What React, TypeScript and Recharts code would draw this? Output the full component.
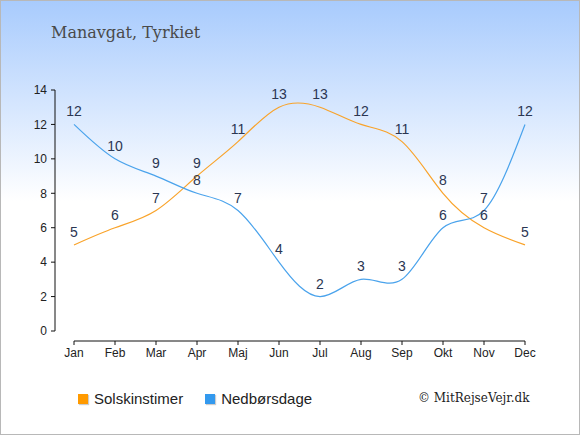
import { LineChart, Line, XAxis, YAxis, LabelList } from "recharts";

const months = ["Jan", "Feb", "Mar", "Apr", "Maj", "Jun", "Jul", "Aug", "Sep", "Okt", "Nov", "Dec"];
const solskinstimer = [5, 6, 7, 9, 11, 13, 13, 12, 11, 8, 6, 5];
const nedboersdage = [12, 10, 9, 8, 7, 4, 2, 3, 3, 6, 7, 12];
const yTicks = [0, 2, 4, 6, 8, 10, 12, 14];

const data = months.map((m, i) => ({
  month: m,
  sol: solskinstimer[i],
  ned: nedboersdage[i],
}));

const ORANGE = "#f9a32a";
const BLUE = "#4aa3ec";
const LABEL = "#2b3652";

export default function App() {
  return (
    <div
      style={{
        position: "absolute",
        top: 0,
        left: 0,
        width: 580,
        height: 435,
        boxSizing: "border-box",
        border: "1px solid #b8b8b8",
        background: "linear-gradient(to bottom, #a8cbfd 0px, #ffffff 200px, #ffffff 435px)",
        fontFamily: "'Liberation Sans', Arial, sans-serif",
        overflow: "hidden",
      }}
    >
      <div
        style={{
          position: "absolute",
          left: 50,
          top: 22,
          fontFamily: "'DejaVu Serif', serif",
          fontSize: 16,
          color: "#4a4a4a",
        }}
      >
        Manavgat, Tyrkiet
      </div>

      <div style={{ position: "absolute", top: -1, left: -1 }}>
        <LineChart
          width={580}
          height={435}
          data={data}
          margin={{ top: 90, right: 55, left: 15, bottom: 64 }}
        >
          <XAxis
            dataKey="month"
            padding={{ left: 19, right: 0 }}
            axisLine={{ stroke: "#111", strokeDasharray: "0 19 451 1000" }}
            tickLine={{ stroke: "#111" }}
            tickSize={4}
            tickMargin={3}
            height={30}
            tick={{ fontSize: 12, fill: "#222" }}
            interval={0}
          />
          <YAxis
            domain={[0, 14]}
            ticks={yTicks}
            padding={{ top: 0, bottom: 10 }}
            width={40}
            axisLine={{ stroke: "#111", strokeDasharray: "241 1000" }}
            tickLine={{ stroke: "#111" }}
            tickSize={4}
            tickMargin={4}
            tick={{ fontSize: 12, fill: "#222" }}
          />
          <Line
            type="natural"
            dataKey="sol"
            stroke={ORANGE}
            strokeWidth={1.2}
            dot={false}
            activeDot={false}
            isAnimationActive={false}
          >
            <LabelList dataKey="sol" position="top" offset={8} fill={LABEL} fontSize={14} />
          </Line>
          <Line
            type="natural"
            dataKey="ned"
            stroke={BLUE}
            strokeWidth={1.2}
            dot={false}
            activeDot={false}
            isAnimationActive={false}
          >
            <LabelList dataKey="ned" position="top" offset={8} fill={LABEL} fontSize={14} />
          </Line>
        </LineChart>
      </div>

      <div
        style={{
          position: "absolute",
          left: 77,
          top: 389,
          display: "flex",
          alignItems: "center",
          fontSize: 15,
          color: "#222",
        }}
      >
        <span style={{ width: 10, height: 10, background: "#ff9a00", boxShadow: "1px 1px 1px #ccc", marginRight: 6 }} />
        <span style={{ marginRight: 22 }}>Solskinstimer</span>
        <span style={{ width: 10, height: 10, background: "#3399ee", boxShadow: "1px 1px 1px #ccc", marginRight: 6 }} />
        <span>Nedbørsdage</span>
      </div>

      <div
        style={{
          position: "absolute",
          left: 417,
          top: 390,
          fontFamily: "'DejaVu Serif', serif",
          fontSize: 12,
          color: "#222",
        }}
      >
        © MitRejseVejr.dk
      </div>
    </div>
  );
}
